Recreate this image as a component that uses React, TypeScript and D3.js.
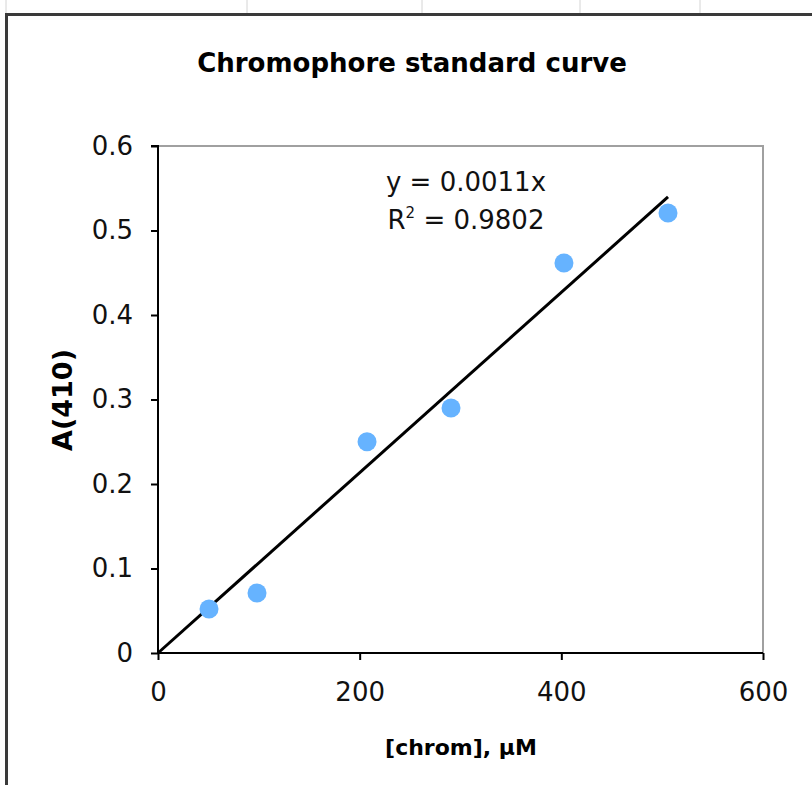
import { useEffect, useRef } from "react";
import * as d3 from "d3";

// concentration (µM) and absorbance
const conc = [50.6, 98.2, 207.3, 290.6, 402.6, 505.8];
const absorb = [0.052, 0.071, 0.25, 0.29, 0.4615, 0.5207];
const xTicks = [0, 200, 400, 600];
const yTicks = [0, 0.1, 0.2, 0.3, 0.4, 0.5, 0.6];
const sheetCols = [6, 247, 422, 580, 700];

const W = 812;
const H = 785;
const margin = { left: 158, top: 146, right: 49, bottom: 132 };

export default function App() {
  const ref = useRef<SVGSVGElement>(null);

  useEffect(() => {
    const svg = d3.select(ref.current);
    svg.selectAll("*").remove();
    const font = "'DejaVu Sans', Verdana, sans-serif";

    // spreadsheet background bits
    svg
      .append("g")
      .selectAll("line")
      .data(sheetCols)
      .enter()
      .append("line")
      .attr("x1", (d) => d)
      .attr("x2", (d) => d)
      .attr("y1", 0)
      .attr("y2", 13)
      .attr("stroke", "#d4d4d4")
      .attr("stroke-width", 1);

    svg
      .append("path")
      .attr("d", `M6.5,${H} V14.5 H${W}`)
      .attr("fill", "none")
      .attr("stroke", "#3a3a3a")
      .attr("stroke-width", 3);

    const x = d3
      .scaleLinear()
      .domain([0, 600])
      .range([margin.left, W - margin.right]);
    const y = d3
      .scaleLinear()
      .domain([0, 0.6])
      .range([H - margin.bottom, margin.top]);

    // plot area border (top & right)
    svg
      .append("path")
      .attr("d", `M${x(0)},${y(0.6)} H${x(600)} V${y(0)}`)
      .attr("fill", "none")
      .attr("stroke", "#a0a0a0")
      .attr("stroke-width", 2);

    const xAxis = svg
      .append("g")
      .attr("transform", `translate(0,${y(0)})`)
      .call(
        d3
          .axisBottom(x)
          .tickValues(xTicks)
          .tickSize(7)
          .tickPadding(23)
          .tickFormat((d) => `${d}`)
      );
    const yAxis = svg
      .append("g")
      .attr("transform", `translate(${x(0)},0)`)
      .call(
        d3
          .axisLeft(y)
          .tickValues(yTicks)
          .tickSize(7)
          .tickPadding(18)
          .tickFormat((d) => (d === 0 ? "0" : d3.format(".1f")(d as number)))
      );
    [xAxis, yAxis].forEach((g) => {
      g.select(".domain").attr("stroke", "#000").attr("stroke-width", 2);
      g.selectAll(".tick line").attr("stroke", "#000").attr("stroke-width", 2);
      g.selectAll(".tick text")
        .attr("fill", "#111")
        .style("font-family", font)
        .style("font-size", "26px");
    });
    yAxis.select(".domain").attr("d", `M${-7},${y(0.6)}H0V${y(0)}`);
    xAxis.select(".domain").attr("d", `M0,0H${x(600) - x(0)}`).attr("transform", `translate(${x(0)},0)`);

    // trendline through origin (least squares)
    const slope =
      d3.sum(conc, (c, i) => c * absorb[i]) / d3.sum(conc, (c) => c * c);
    const xMax = d3.max(conc) as number;
    svg
      .append("line")
      .attr("x1", x(0))
      .attr("y1", y(0))
      .attr("x2", x(xMax))
      .attr("y2", y(slope * xMax))
      .attr("stroke", "#000")
      .attr("stroke-width", 3);

    svg
      .append("g")
      .selectAll("circle")
      .data(conc)
      .enter()
      .append("circle")
      .attr("cx", (d) => x(d))
      .attr("cy", (d, i) => y(absorb[i]))
      .attr("r", 9.5)
      .attr("fill", "#66b3ff");

    // equation label
    const eq = svg
      .append("text")
      .attr("text-anchor", "middle")
      .style("font-family", font)
      .style("font-size", "26px")
      .attr("fill", "#111");
    eq.append("tspan").attr("x", 466).attr("y", 191).text("y = 0.0011x");
    const r2 = eq.append("tspan").attr("x", 466).attr("y", 229);
    r2.append("tspan").text("R");
    r2.append("tspan").attr("dy", -11).style("font-size", "15px").text("2");
    r2.append("tspan").attr("dy", 11).text(" = 0.9802");

    svg
      .append("text")
      .attr("x", 412)
      .attr("y", 72)
      .attr("text-anchor", "middle")
      .style("font-family", font)
      .style("font-size", "26px")
      .style("font-weight", "bold")
      .text("Chromophore standard curve");

    svg
      .append("text")
      .attr("x", 461)
      .attr("y", 755)
      .attr("text-anchor", "middle")
      .style("font-family", font)
      .style("font-size", "22px")
      .style("font-weight", "bold")
      .text("[chrom], µM");

    svg
      .append("text")
      .attr("transform", `translate(72,${400}) rotate(-90)`)
      .attr("text-anchor", "middle")
      .style("font-family", font)
      .style("font-size", "27px")
      .style("font-weight", "bold")
      .text("A(410)");
  }, []);

  return (
    <svg
      ref={ref}
      width={W}
      height={H}
      style={{ position: "absolute", left: 0, top: 0, background: "#fff" }}
    />
  );
}
